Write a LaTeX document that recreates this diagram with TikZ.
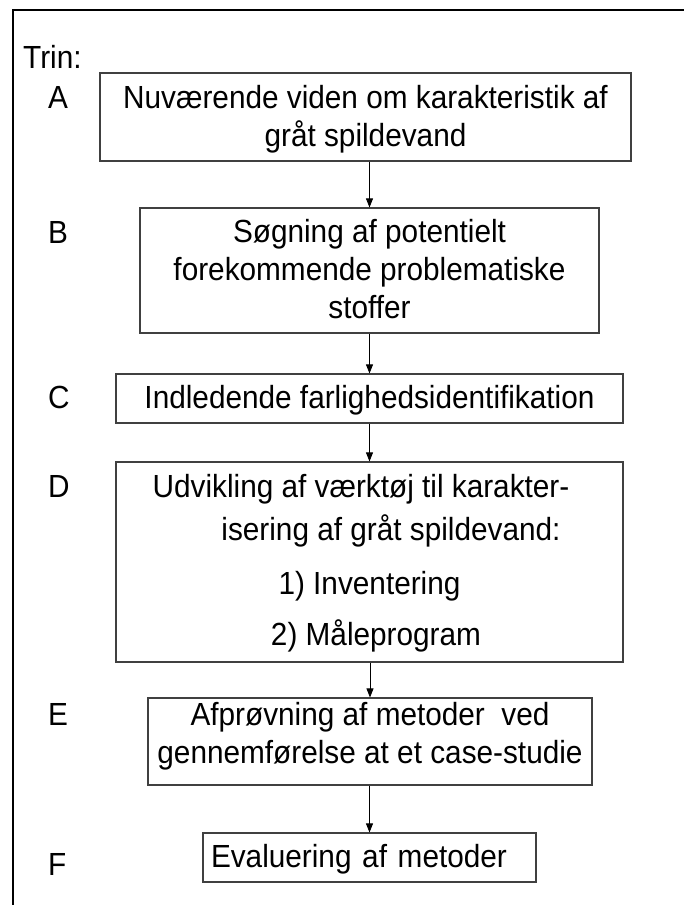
\documentclass[tikz,border=0pt]{standalone}
\usepackage{fontspec}
\setmainfont{Liberation Sans}[FakeStretch=0.93]
\usetikzlibrary{arrows.meta}
\tikzstyle{stepbox} = [rectangle, draw=black!75, line width=1.1pt, align=center, inner sep=0pt, anchor=base]
\tikzstyle{stepletter} = [anchor=base west, inner sep=0pt]
\tikzstyle{arrow} = [line width=0.8pt, -{Triangle[length=9pt,width=7pt]}]

\begin{document}
\begin{tikzpicture}[x=1pt, y=-1pt, font=\fontsize{32}{38}\selectfont]
   \useasboundingbox (0,0) rectangle (684,905);
   \draw [line width=1.3pt] (13,905) -- (13,10) -- (684,10);
   \node (trin) [stepletter] at (23,68) {Trin:};
   % boxes, placed at the baseline of their last line
   \node (a) [stepbox, minimum width=531pt, text height=73pt, text depth=15pt] at (365.5,146) {Nuværende viden om karakteristik af\\gråt spildevand};
   \node (b) [stepbox, minimum width=459pt, text height=110pt, text depth=15pt] at (369.5,318) {Søgning af potentielt\\forekommende problematiske\\stoffer};
   \node (c) [stepbox, minimum width=507pt, text height=34pt, text depth=15pt] at (369.5,408) {Indledende farlighedsidentifikation};
   \node (d) [stepbox, minimum width=507pt, text height=183pt, text depth=17pt] at (369.5,645) {\hspace*{-17pt}Udvikling af værktøj til karakter-\\[5pt]\hspace*{43pt}isering af gråt spildevand:\\[16pt]1) Inventering\\[13pt]\hspace*{13pt}2) Måleprogram};
   \node (e) [stepbox, minimum width=444pt, text height=65pt, text depth=22pt] at (370,763) {Afprøvning af metoder\ \ ved\\gennemførelse at et case-studie};
   \node (f) [stepbox, minimum width=333pt, text width=317pt, align=left, text height=34pt, text depth=15pt] at (369.5,867) {Evaluering af metoder};
   % step letters
   \node (la) [stepletter] at (48,108) {A};
   \node (lb) [stepletter] at (48,243) {B};
   \node (lc) [stepletter] at (48,408) {C};
   \node (ld) [stepletter] at (48,497) {D};
   \node (le) [stepletter] at (48,725) {E};
   \node (lf) [stepletter] at (48,875) {F};
   % arrows
   \draw [arrow] (a.south -| b.north) -- (b.north);
   \draw [arrow] (b.south -| c.north) -- (c.north);
   \draw [arrow] (c.south -| d.north) -- (d.north);
   \draw [arrow] (d.south -| e.north) -- (e.north);
   \draw [arrow] (e.south -| f.north) -- (f.north);
\end{tikzpicture}
\end{document}
